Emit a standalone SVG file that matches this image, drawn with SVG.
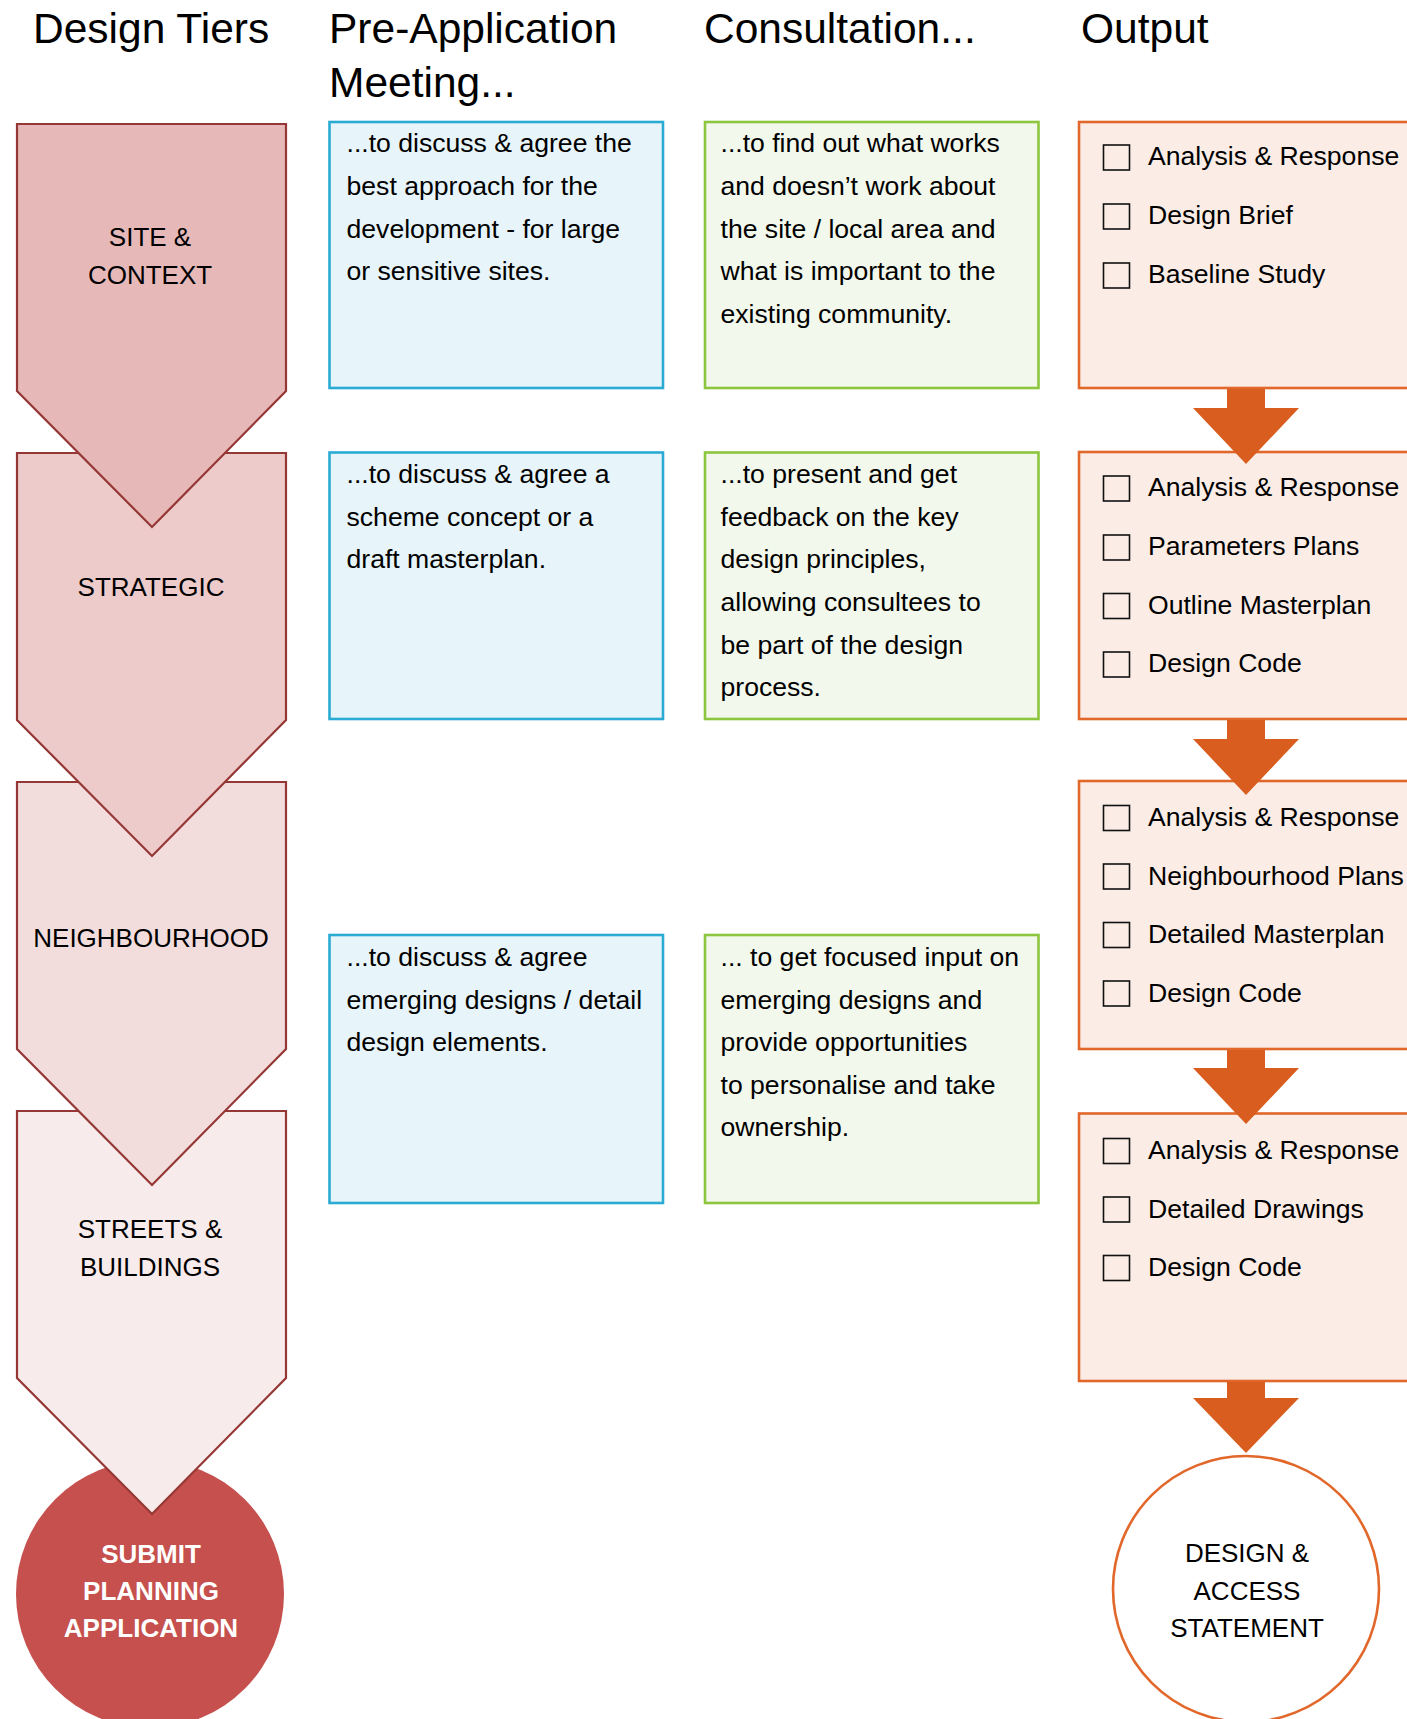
<svg xmlns="http://www.w3.org/2000/svg" width="1407" height="1719" viewBox="0 0 1407 1719">
<style>
text{font-family:"Liberation Sans",Arial,sans-serif;fill:#000}
.hd{font-size:42.5px}
.tx{font-size:26.6px}
.tier{font-size:26px;text-anchor:middle}
.chev{stroke:#953735;stroke-width:2.2}
.blue{fill:#e7f4f9;stroke:#29abd4;stroke-width:2.6}
.green{fill:#f3f8ec;stroke:#8cc63e;stroke-width:2.6}
.orange{fill:#fbede6;stroke:#e2672a;stroke-width:2.6}
.cb{fill:none;stroke:#111;stroke-width:1.6}
.arr{fill:#d95d1e}
</style>
<defs>
<path id="chevshape" d="M17,0 H286 V267 L152,403 L17,267 Z"/>
<rect id="cbox" x="0" y="0" width="26" height="25"/>
</defs>

<g id="headers">
<text class="hd" x="33" y="43">Design Tiers</text>
<text class="hd" x="329" y="43">Pre-Application</text>
<text class="hd" x="329" y="97">Meeting...</text>
<text class="hd" x="704" y="43">Consultation...</text>
<text class="hd" x="1081" y="43">Output</text>
</g>

<g id="submit">
<circle cx="150" cy="1594" r="134" fill="#c5504d"/>
<g style="font-size:26px;font-weight:bold;text-anchor:middle">
<text x="151" y="1563" style="fill:#fff">SUBMIT</text>
<text x="151" y="1600" style="fill:#fff">PLANNING</text>
<text x="151" y="1637" style="fill:#fff">APPLICATION</text>
</g>
</g>

<g id="tier-streets">
<use href="#chevshape" y="1111" class="chev" fill="#f8ebeb"/>
<text class="tier" x="150" y="1238">STREETS &amp;</text>
<text class="tier" x="150" y="1276">BUILDINGS</text>
</g>
<g id="tier-neighbourhood">
<use href="#chevshape" y="782" class="chev" fill="#f2dddc"/>
<text class="tier" x="151" y="947">NEIGHBOURHOOD</text>
</g>
<g id="tier-strategic">
<use href="#chevshape" y="453" class="chev" fill="#edcbca"/>
<text class="tier" x="151" y="596">STRATEGIC</text>
</g>
<g id="tier-site">
<use href="#chevshape" y="124" class="chev" fill="#e6b9b8"/>
<text class="tier" x="150" y="246">SITE &amp;</text>
<text class="tier" x="150" y="284">CONTEXT</text>
</g>

<g id="pre-1">
<rect class="blue" x="329.5" y="122" width="333.5" height="266"/>
<text class="tx" x="346.5" y="152">...to discuss &amp; agree the</text>
<text class="tx" x="346.5" y="195">best approach for the</text>
<text class="tx" x="346.5" y="237.5">development - for large</text>
<text class="tx" x="346.5" y="280">or sensitive sites.</text>
</g>
<g id="pre-2">
<rect class="blue" x="329.5" y="452.5" width="333.5" height="266.5"/>
<text class="tx" x="346.5" y="483">...to discuss &amp; agree a</text>
<text class="tx" x="346.5" y="525.5">scheme concept or a</text>
<text class="tx" x="346.5" y="568">draft masterplan.</text>
</g>
<g id="pre-3">
<rect class="blue" x="329.5" y="935" width="333.5" height="268"/>
<text class="tx" x="346.5" y="966">...to discuss &amp; agree</text>
<text class="tx" x="346.5" y="1008.5">emerging designs / detail</text>
<text class="tx" x="346.5" y="1051">design elements.</text>
</g>

<g id="cons-1">
<rect class="green" x="705" y="122" width="333.5" height="266"/>
<text class="tx" x="720.5" y="152">...to find out what works</text>
<text class="tx" x="720.5" y="195">and doesn’t work about</text>
<text class="tx" x="720.5" y="237.5">the site / local area and</text>
<text class="tx" x="720.5" y="280">what is important to the</text>
<text class="tx" x="720.5" y="323">existing community.</text>
</g>
<g id="cons-2">
<rect class="green" x="705" y="452.5" width="333.5" height="266.5"/>
<text class="tx" x="720.5" y="483">...to present and get</text>
<text class="tx" x="720.5" y="525.5">feedback on the key</text>
<text class="tx" x="720.5" y="568">design principles,</text>
<text class="tx" x="720.5" y="611">allowing consultees to</text>
<text class="tx" x="720.5" y="653.5">be part of the design</text>
<text class="tx" x="720.5" y="696">process.</text>
</g>
<g id="cons-3">
<rect class="green" x="705" y="935" width="333.5" height="268"/>
<text class="tx" x="720.5" y="966">... to get focused input on</text>
<text class="tx" x="720.5" y="1008.5">emerging designs and</text>
<text class="tx" x="720.5" y="1051">provide opportunities</text>
<text class="tx" x="720.5" y="1093.5">to personalise and take</text>
<text class="tx" x="720.5" y="1136">ownership.</text>
</g>

<g id="out-1">
<rect class="orange" x="1079" y="122" width="340" height="266"/>
<use href="#cbox" class="cb" x="1103.5" y="145"/><text class="tx" x="1148" y="165">Analysis &amp; Response</text>
<use href="#cbox" class="cb" x="1103.5" y="204"/><text class="tx" x="1148" y="224">Design Brief</text>
<use href="#cbox" class="cb" x="1103.5" y="263"/><text class="tx" x="1148" y="283">Baseline Study</text>
</g>
<g id="out-2">
<rect class="orange" x="1079" y="452" width="340" height="267"/>
<use href="#cbox" class="cb" x="1103.5" y="476"/><text class="tx" x="1148" y="496">Analysis &amp; Response</text>
<use href="#cbox" class="cb" x="1103.5" y="535"/><text class="tx" x="1148" y="555">Parameters Plans</text>
<use href="#cbox" class="cb" x="1103.5" y="593.5"/><text class="tx" x="1148" y="613.5">Outline Masterplan</text>
<use href="#cbox" class="cb" x="1103.5" y="652"/><text class="tx" x="1148" y="672">Design Code</text>
</g>
<g id="out-3">
<rect class="orange" x="1079" y="781" width="340" height="268"/>
<use href="#cbox" class="cb" x="1103.5" y="805.5"/><text class="tx" x="1148" y="826">Analysis &amp; Response</text>
<use href="#cbox" class="cb" x="1103.5" y="864"/><text class="tx" x="1148" y="884.5">Neighbourhood Plans</text>
<use href="#cbox" class="cb" x="1103.5" y="922.5"/><text class="tx" x="1148" y="943">Detailed Masterplan</text>
<use href="#cbox" class="cb" x="1103.5" y="981"/><text class="tx" x="1148" y="1001.5">Design Code</text>
</g>
<g id="out-4">
<rect class="orange" x="1079" y="1113.5" width="340" height="267.5"/>
<use href="#cbox" class="cb" x="1103.5" y="1138.5"/><text class="tx" x="1148" y="1159">Analysis &amp; Response</text>
<use href="#cbox" class="cb" x="1103.5" y="1197"/><text class="tx" x="1148" y="1217.5">Detailed Drawings</text>
<use href="#cbox" class="cb" x="1103.5" y="1255.5"/><text class="tx" x="1148" y="1276">Design Code</text>
</g>

<g id="das">
<circle cx="1246" cy="1589" r="133" fill="#fff" stroke="#e2672a" stroke-width="2.6"/>
<text class="tier" x="1247" y="1562">DESIGN &amp;</text>
<text class="tier" x="1247" y="1599.5">ACCESS</text>
<text class="tier" x="1247" y="1637">STATEMENT</text>
</g>

<g id="connectors">
<path class="arr" d="M1227,389 H1265 V408 H1299 L1246,464 L1193,408 H1227 Z"/>
<path class="arr" d="M1227,720 H1265 V739 H1299 L1246,795 L1193,739 H1227 Z"/>
<path class="arr" d="M1227,1050 H1265 V1068 H1299 L1246,1124 L1193,1068 H1227 Z"/>
<path class="arr" d="M1227,1382 H1265 V1398 H1299 L1246,1453 L1193,1398 H1227 Z"/>
</g>
</svg>
